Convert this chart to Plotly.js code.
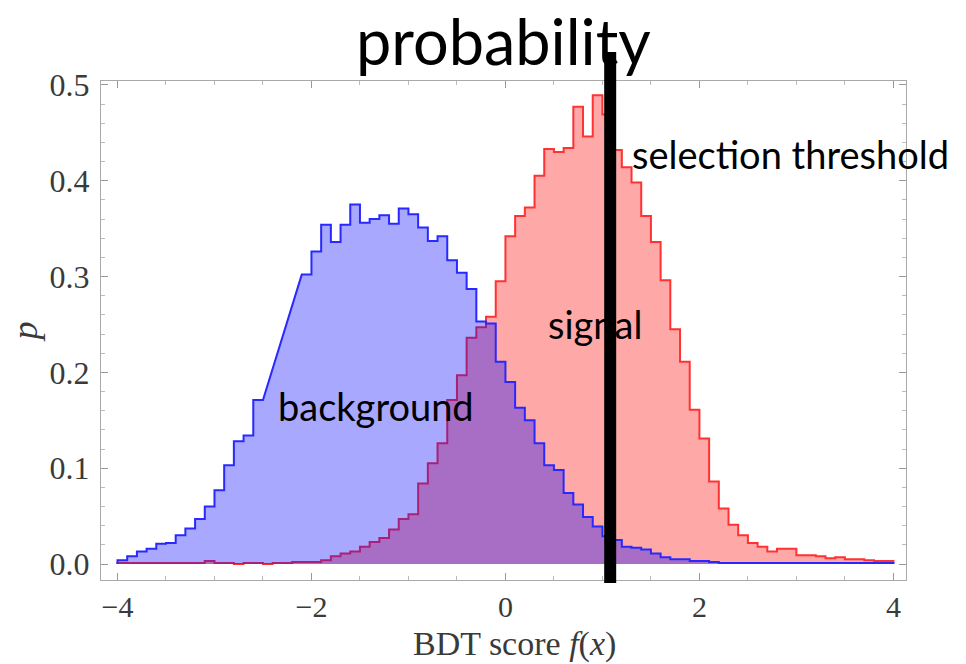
<!DOCTYPE html>
<html>
<head>
<meta charset="utf-8">
<script src="https://cdn.plot.ly/plotly-3.0.1.min.js"></script>
<style>
html,body{margin:0;padding:0;background:#fff;}
#chart{width:966px;height:664px;}
</style>
</head>
<body>
<div id="chart"></div>
<script>
// ---- data (histogram, bin width 0.1 from -4 to 4) ----
const binLow = -4;
const binWidth = 0.1;
// background (blue); null = bins where the drawn outline is a straight slope
const backgroundP = [
  0.004, 0.008, 0.013, 0.016, 0.021, 0.022, 0.030, 0.037, 0.047, 0.060,
  0.077, 0.103, 0.128, 0.134, 0.171, null,  null,  null,  null,  0.302,
  0.326, 0.354, 0.336, 0.354, 0.375, 0.356, 0.360, 0.364, 0.355, 0.371,
  0.365, 0.351, 0.337, 0.342, 0.317, 0.304, 0.287, 0.253, 0.251, 0.211,
  0.190, 0.163, 0.150, 0.126, 0.103, 0.098, 0.074, 0.062, 0.049, 0.039,
  0.029, 0.025, 0.018, 0.017, 0.015, 0.011, 0.007, 0.005, 0.005, 0.003,
  0.003, 0.002, 0.001, 0.001, 0.001, 0.001, 0.001, 0.001, 0.001, 0.001,
  0.001, 0.001, 0.001, 0.001, 0.001, 0.001, 0.001, 0.001, 0.001, 0.001
];
// signal (red)
const signalP = [
  0.001, 0.001, 0.001, 0.001, 0.001, 0.001, 0.001, 0.001, 0.001, 0.003,
  0.001, 0.001, 0.000, 0.001, 0.001, 0.000, 0.001, 0.001, 0.002, 0.002,
  0.002, 0.004, 0.008, 0.011, 0.013, 0.018, 0.023, 0.027, 0.036, 0.047,
  0.052, 0.084, 0.105, 0.126, 0.171, 0.197, 0.236, 0.247, 0.258, 0.295,
  0.342, 0.363, 0.372, 0.405, 0.433, 0.430, 0.434, 0.477, 0.446, 0.489,
  0.469, 0.432, 0.414, 0.398, 0.363, 0.336, 0.296, 0.245, 0.211, 0.161,
  0.131, 0.086, 0.058, 0.041, 0.030, 0.022, 0.018, 0.013, 0.016, 0.016,
  0.009, 0.009, 0.008, 0.006, 0.007, 0.005, 0.005, 0.004, 0.003, 0.003
];
const threshold = 1.08;
const xTickVals = [-4, -2, 0, 2, 4];
const yTickVals = [0, 0.1, 0.2, 0.3, 0.4, 0.5];
const labels = {
  title: 'probability',
  xTitle: 'BDT score <i>f</i>(<i>x</i>)',
  yTitle: '<i>p</i>',
  signal: 'signal',
  background: 'background',
  threshold: 'selection threshold'
};

// build step outline from bin values
function stepPath(vals) {
  const xs = [binLow], ys = [0];
  vals.forEach((v, i) => {
    if (v === null) return;
    const a = +(binLow + i * binWidth).toFixed(3);
    const b = +(binLow + (i + 1) * binWidth).toFixed(3);
    xs.push(a, b); ys.push(v, v);
  });
  xs.push(+(binLow + vals.length * binWidth).toFixed(3)); ys.push(0);
  return {x: xs, y: ys};
}

const sig = stepPath(signalP);
const bg = stepPath(backgroundP);

const traces = [
  {x: sig.x, y: sig.y, type: 'scatter', mode: 'lines', fill: 'tozeroy',
   line: {color: 'rgb(255,50,50)', width: 2}, fillcolor: 'rgba(255,0,0,0.34)',
   hoverinfo: 'skip', showlegend: false},
  {x: bg.x, y: bg.y, type: 'scatter', mode: 'lines', fill: 'tozeroy',
   line: {color: 'rgb(40,40,255)', width: 2}, fillcolor: 'rgba(0,0,255,0.34)',
   hoverinfo: 'skip', showlegend: false}
];

const serif = 'Liberation Serif, Times New Roman, serif';
const yTickFont = {family: serif, size: 32, color: '#3a3a3a'};
const xTickFont = {family: serif, size: 30, color: '#3a3a3a'};
const annFont = {family: 'Lato, sans-serif', size: 38, color: '#000'};

const layout = {
  width: 966, height: 664,
  margin: {l: 101, r: 60, t: 81, b: 84},
  paper_bgcolor: '#fff', plot_bgcolor: '#fff',
  xaxis: {
    range: [-4.17, 4.13], tickvals: xTickVals, ticks: 'inside', ticklen: 7,
    tickcolor: '#999', showline: true, linecolor: '#aaa', linewidth: 1, mirror: 'ticks',
    showgrid: false, zeroline: false, tickfont: xTickFont, ticklabelstandoff: 0,
    minor: {dtick: 0.5, ticks: 'inside', ticklen: 4, tickcolor: '#bbb', showgrid: false}
  },
  yaxis: {
    range: [-0.0167, 0.504], tickvals: yTickVals, tickformat: '.1f', ticks: 'inside', ticklen: 7,
    tickcolor: '#999', showline: true, linecolor: '#aaa', linewidth: 1, mirror: 'ticks',
    showgrid: false, zeroline: false, tickfont: yTickFont, ticklabelstandoff: 4,
    minor: {dtick: 0.02, ticks: 'inside', ticklen: 4, tickcolor: '#bbb', showgrid: false},
    title: {text: labels.yTitle, font: {family: serif, size: 36, color: '#3a3a3a'}, standoff: 0}
  },
  shapes: [
    {type: 'line', xref: 'x', yref: 'paper', x0: threshold, x1: threshold, y0: -0.006, y1: 1.058,
     line: {color: '#000', width: 12}}
  ],
  annotations: [
    {text: labels.title, xref: 'paper', yref: 'paper', x: 0.5, y: 1.082, xanchor: 'center', yanchor: 'middle',
     showarrow: false, font: {family: 'Lato, sans-serif', size: 63, color: '#000'}},
    {text: labels.xTitle, xref: 'paper', yref: 'paper', x: 0.514, y: -0.128, xanchor: 'center', yanchor: 'middle',
     showarrow: false, font: {family: serif, size: 34, color: '#3a3a3a'}},
    {text: labels.threshold, xref: 'x', yref: 'y', x: 1.28, y: 0.428, xanchor: 'left', yanchor: 'middle',
     showarrow: false, font: annFont},
    {text: labels.signal, xref: 'x', yref: 'y', x: 0.92, y: 0.250, xanchor: 'center', yanchor: 'middle',
     showarrow: false, font: annFont},
    {text: labels.background, xref: 'x', yref: 'y', x: -1.33, y: 0.165, xanchor: 'center', yanchor: 'middle',
     showarrow: false, font: annFont}
  ]
};

Plotly.newPlot('chart', traces, layout, {displayModeBar: false, staticPlot: true});
</script>
</body>
</html>
